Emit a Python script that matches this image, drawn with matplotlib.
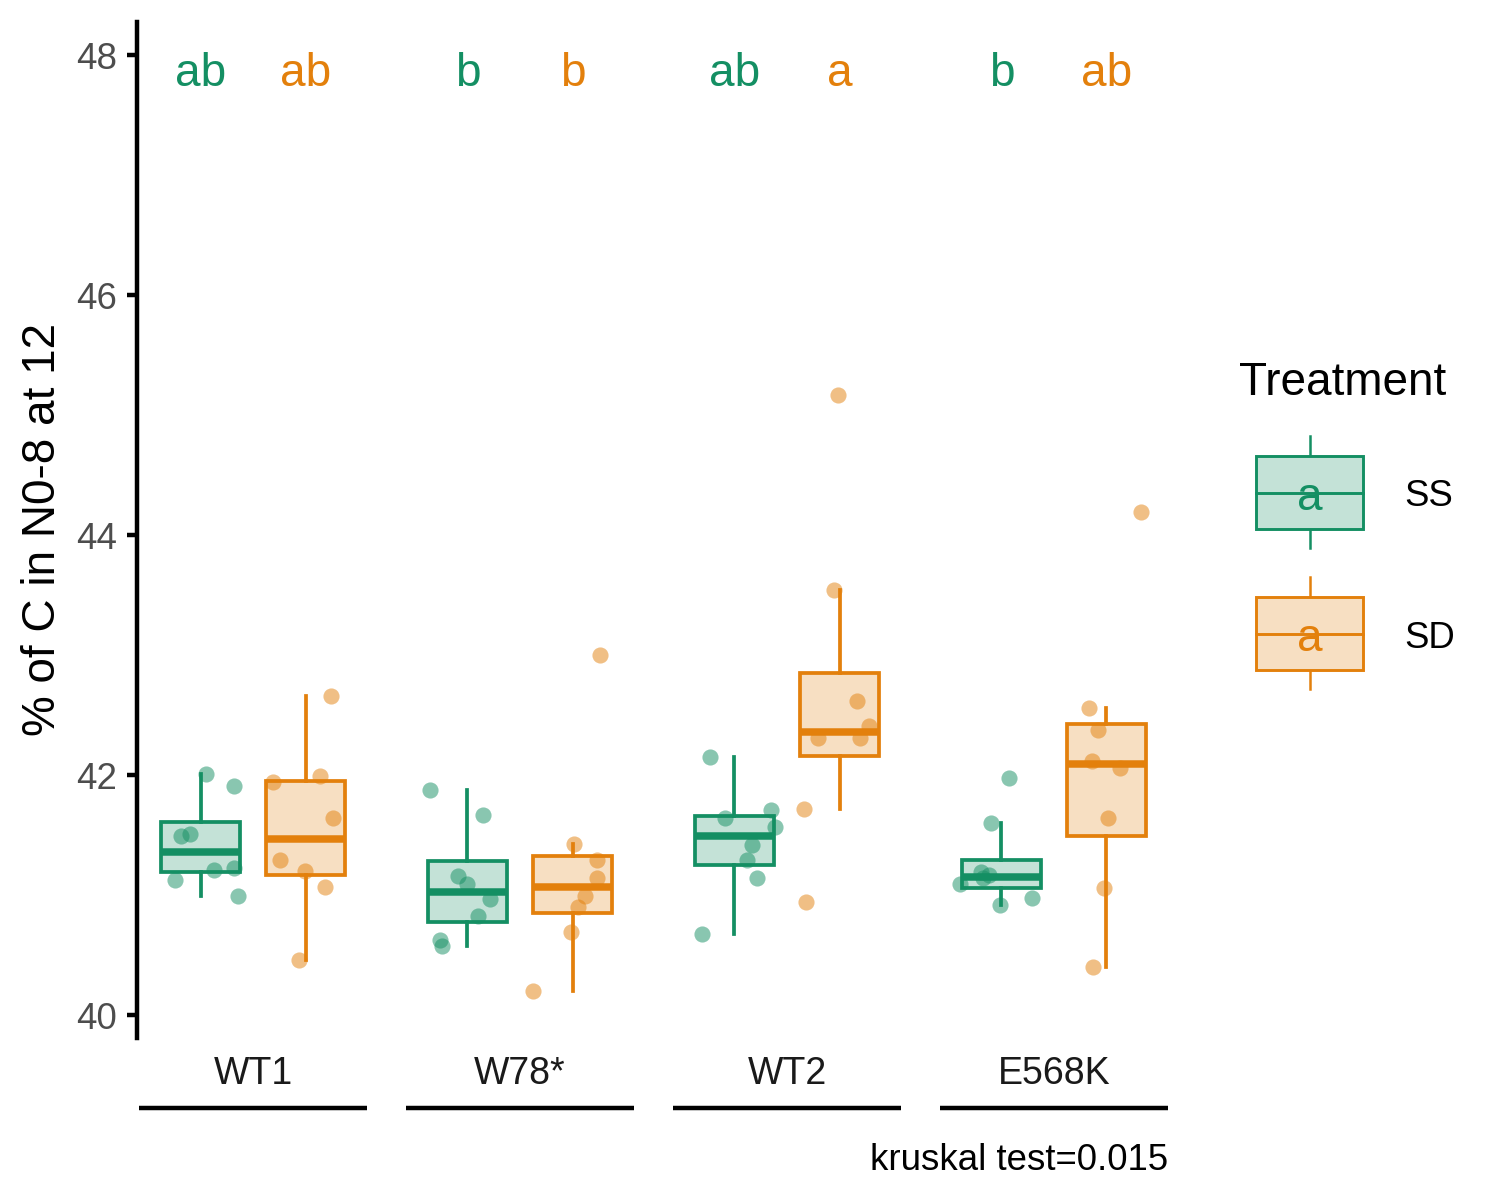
import numpy as np
import matplotlib.pyplot as plt
from matplotlib.colors import to_rgba
from matplotlib.patches import Rectangle
from matplotlib.transforms import blended_transform_factory

plt.rcParams['font.family'] = ['Liberation Sans', 'DejaVu Sans']

# data
genotypes = ['WT1', 'W78*', 'WT2', 'E568K']
treatments = ['SS', 'SD']
colors = {'SS': '#148F63', 'SD': '#E3800C'}

ss_values = [
    [42.01, 41.91, 41.49, 41.51, 41.21, 41.23, 41.13, 40.99],
    [41.88, 41.67, 41.16, 41.09, 40.97, 40.83, 40.63, 40.58],
    [42.15, 41.64, 41.71, 41.57, 41.42, 41.29, 41.14, 40.68],
    [41.98, 41.60, 41.14, 41.17, 41.19, 41.09, 40.92, 40.98],
]
sd_values = [
    [42.66, 41.94, 41.99, 41.64, 41.29, 41.20, 41.07, 40.46],
    [43.00, 41.43, 41.29, 41.14, 40.99, 40.90, 40.69, 40.20],
    [45.17, 43.54, 42.62, 42.41, 42.31, 42.31, 41.72, 40.94],
    [44.19, 42.56, 42.38, 42.12, 42.06, 41.64, 41.06, 40.40],
]
# horizontal jitter of each point (group units)
ss_jitter = [
    [0.021, 0.124, -0.075, -0.041, 0.049, 0.127, -0.094, 0.139],
    [-0.139, 0.060, -0.037, 0.0, 0.086, 0.041, -0.101, -0.094],
    [-0.090, -0.037, 0.139, 0.154, 0.067, 0.049, 0.086, -0.120],
    [0.030, -0.037, -0.067, -0.045, -0.075, -0.154, -0.004, 0.116],
]
sd_jitter = [
    [0.094, -0.124, 0.052, 0.101, -0.097, -0.004, 0.071, -0.026],
    [0.101, 0.007, 0.090, 0.090, 0.045, 0.019, -0.007, -0.150],
    [-0.007, -0.019, 0.064, 0.112, -0.079, 0.075, -0.135, -0.124],
    [0.131, -0.064, -0.030, -0.056, 0.052, 0.007, -0.011, -0.052],
]
letters_ss = ['ab', 'b', 'ab', 'b']
letters_sd = ['ab', 'b', 'a', 'ab']
kruskal_p = 0.015

W, H = 1500, 1200
fig = plt.figure(figsize=(5, 4), dpi=300)
ax = fig.add_axes([137 / W, 1 - 1038 / H, 1033 / W, 1016 / H])

dodge = 0.197
box_w = 0.296
centers = np.arange(len(genotypes))

for trt, vals, jit, letters, sign in [('SS', ss_values, ss_jitter, letters_ss, -1),
                                      ('SD', sd_values, sd_jitter, letters_sd, 1)]:
    col = colors[trt]
    pos = centers + sign * dodge
    ax.boxplot(vals, positions=pos, widths=box_w, whis=1.5, showfliers=False,
               showcaps=False, patch_artist=True, manage_ticks=False,
               boxprops=dict(facecolor=to_rgba(col, 0.25), edgecolor=col, linewidth=0.9),
               whiskerprops=dict(color=col, linewidth=0.9),
               medianprops=dict(color=col, linewidth=1.8, solid_capstyle='butt'))
    for p, v, j in zip(pos, vals, jit):
        ax.scatter(p + np.array(j), v, s=15, color=col, alpha=0.5,
                   linewidths=0, zorder=3)
    for p, lab in zip(pos, letters):
        ax.text(p, 47.74, lab, color=col, fontsize=11, ha='center', va='baseline')

ax.set_xlim(-0.435, 3.435)
ax.set_ylim(39.81, 48.275)
ax.set_yticks([40, 42, 44, 46, 48])
ax.set_xticks([])
for s in ['top', 'right', 'bottom']:
    ax.spines[s].set_visible(False)
ax.spines['left'].set_linewidth(1.07)
ax.tick_params(axis='y', length=2.4, width=1.07, pad=2.4, labelsize=8.8,
               labelcolor='#4D4D4D')
ax.set_ylabel('% of C in N0-8 at 12', fontsize=11, labelpad=2.6)

# group labels and lines under them
trans = blended_transform_factory(ax.transData, fig.transFigure)
for c, g in zip(centers, genotypes):
    ax.text(c, 1 - 1074 / H, g, transform=trans, ha='center', va='center',
            fontsize=9, color='#1A1A1A')
    ax.plot([c - 0.427, c + 0.427], [1 - 1108 / H] * 2, transform=trans,
            color='black', linewidth=1.07, clip_on=False, solid_capstyle='butt')

fig.text(1168 / W, 1 - 1170 / H, f'kruskal test={kruskal_p}', ha='right',
         va='baseline', fontsize=8.8)

# legend drawn in its own pixel-space axes
lg = fig.add_axes([1230 / W, 1 - 720 / H, 270 / W, 380 / H])
lg.set_xlim(1230, 1500)
lg.set_ylim(720, 340)
lg.axis('off')
lg.text(1239, 395, 'Treatment', fontsize=11, ha='left', va='baseline')
for trt, top in [('SS', 456), ('SD', 597)]:
    col = colors[trt]
    mid = top + 37
    lg.plot([1309.5, 1309.5], [top - 20, top + 92], color=col, linewidth=0.6)
    lg.add_patch(Rectangle((1256, top), 107, 73, facecolor='white',
                           edgecolor='none', zorder=2))
    lg.add_patch(Rectangle((1256, top), 107, 73, facecolor=to_rgba(col, 0.25),
                           edgecolor=col, linewidth=0.7, zorder=3))
    lg.plot([1256, 1363], [mid, mid], color=col, linewidth=0.7, zorder=4)
    lg.text(1309.5, mid + 5, 'a', color=col, fontsize=11, ha='center',
            va='center', zorder=5)
    lg.text(1404, mid + 4, trt, fontsize=8.8, ha='left', va='center')

fig.savefig('out.png', dpi=300)
